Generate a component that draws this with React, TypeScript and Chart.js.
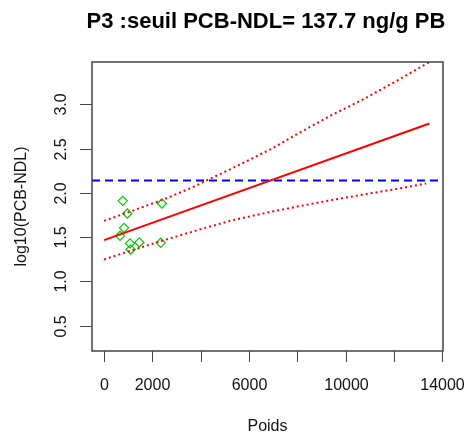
import React, { useEffect, useRef } from 'react';
import { Chart, registerables } from 'chart.js';

Chart.register(...registerables);

const titleText = 'P3 :seuil PCB-NDL= 137.7 ng/g PB';
const xTitle = 'Poids';
const yTitle = 'log10(PCB-NDL)';

// observations
const poids = [773, 2397, 963, 826, 661, 1074, 1459, 1103, 2343];
const logPcb = [1.91, 1.88, 1.767, 1.605, 1.515, 1.429, 1.44, 1.361, 1.436];

// regression line
const fitX = [0, 13470];
const fitY = [1.466, 2.783];

// confidence band
const upperX = [0, 1200, 2500, 3640, 4260, 5290, 6950, 8030, 9410, 10790, 12160, 13450];
const upperY = [1.684, 1.8, 1.93, 2.06, 2.143, 2.275, 2.5, 2.67, 2.877, 3.065, 3.272, 3.475];
const lowerX = [0, 1200, 2260, 4000, 5300, 6800, 8000, 9400, 10800, 12150, 13330];
const lowerY = [1.248, 1.355, 1.447, 1.59, 1.69, 1.78, 1.845, 1.918, 1.984, 2.046, 2.106];

// threshold log10(137.7)
const seuilLog = 2.139;

const xTicks = [0, 2000, 4000, 6000, 8000, 10000, 12000, 14000];
const xTickLabels = ['0', '2000', '', '6000', '', '10000', '', '14000'];
const yTicks = [0.5, 1.0, 1.5, 2.0, 2.5, 3.0];
const yTickLabels = ['0.5', '1.0', '1.5', '2.0', '2.5', '3.0'];

const xMin = -500;
const xMax = 14030;
const yMin = 0.214;
const yMax = 3.478;

const FONT = '"Liberation Sans", Arial, sans-serif';

const toPts = (xs: number[], ys: number[]) => xs.map((x, i) => ({ x, y: ys[i] }));

const rAxesPlugin = {
  id: 'rAxes',
  afterDraw(chart: any) {
    const { ctx, chartArea, scales } = chart;
    const { left, right, top, bottom } = chartArea;
    const xs = scales.x;
    const ys = scales.y;
    ctx.save();
    // box
    ctx.strokeStyle = '#444';
    ctx.lineWidth = 1.5;
    ctx.strokeRect(left, top, right - left, bottom - top);
    // x ticks
    ctx.lineWidth = 1;
    ctx.fillStyle = '#111';
    ctx.font = `16px ${FONT}`;
    ctx.textAlign = 'center';
    ctx.textBaseline = 'middle';
    xTicks.forEach((v, i) => {
      const px = Math.round(xs.getPixelForValue(v)) + 0.5;
      ctx.beginPath();
      ctx.moveTo(px, bottom);
      ctx.lineTo(px, bottom + 11);
      ctx.stroke();
      if (xTickLabels[i]) ctx.fillText(xTickLabels[i], px, 386);
    });
    // y ticks
    yTicks.forEach((v, i) => {
      const py = Math.round(ys.getPixelForValue(v)) + 0.5;
      ctx.beginPath();
      ctx.moveTo(left - 12, py);
      ctx.lineTo(left, py);
      ctx.stroke();
      ctx.save();
      ctx.translate(62, py);
      ctx.rotate(-Math.PI / 2);
      ctx.fillText(yTickLabels[i], 0, 0);
      ctx.restore();
    });
    // axis titles
    ctx.fillText(xTitle, (left + right) / 2, 427);
    ctx.save();
    ctx.translate(22, (top + bottom) / 2);
    ctx.rotate(-Math.PI / 2);
    ctx.fillText(yTitle, 0, 0);
    ctx.restore();
    // main title
    ctx.font = `bold 22px ${FONT}`;
    ctx.fillStyle = '#000';
    ctx.fillText(titleText, 266, 22);
    ctx.restore();
  },
};

export default function App() {
  const ref = useRef<HTMLCanvasElement | null>(null);
  useEffect(() => {
    if (!ref.current) return;
    const lineBase = { showLine: true, pointRadius: 0, tension: 0, clip: 0, fill: false };
    const chart = new Chart(ref.current, {
      type: 'scatter',
      data: {
        datasets: [
          {
            ...lineBase,
            label: 'fit',
            data: toPts(fitX, fitY),
            borderColor: '#ff0000',
            borderWidth: 2,
          },
          {
            ...lineBase,
            label: 'upper',
            data: toPts(upperX, upperY),
            borderColor: '#ff0000',
            borderWidth: 2,
            borderDash: [2, 3],
          },
          {
            ...lineBase,
            label: 'lower',
            data: toPts(lowerX, lowerY),
            borderColor: '#ff0000',
            borderWidth: 2,
            borderDash: [2, 3],
          },
          {
            ...lineBase,
            label: 'seuil',
            data: [
              { x: xMin, y: seuilLog },
              { x: xMax, y: seuilLog },
            ],
            borderColor: '#0000ff',
            borderWidth: 2,
            borderDash: [8, 5],
          },
          {
            label: 'obs',
            data: toPts(poids, logPcb),
            pointStyle: 'rectRot',
            pointRadius: 4.6,
            pointBorderWidth: 1.2,
            borderColor: '#00c800',
            backgroundColor: 'rgba(0,0,0,0)',
            showLine: false,
          },
        ],
      } as any,
      options: {
        animation: false,
        responsive: false,
        devicePixelRatio: 1,
        layout: { padding: { left: 92, top: 62, right: 23, bottom: 91 } },
        plugins: { legend: { display: false }, tooltip: { enabled: false }, title: { display: false } },
        scales: {
          x: { type: 'linear', min: xMin, max: xMax, display: false },
          y: { type: 'linear', min: yMin, max: yMax, display: false },
        },
      } as any,
      plugins: [rAxesPlugin],
    });
    return () => chart.destroy();
  }, []);
  return (
    <div style={{ position: 'absolute', left: 0, top: 0, width: 466, height: 442, background: '#fff' }}>
      <canvas ref={ref} width={466} height={442} style={{ display: 'block' }} />
    </div>
  );
}
